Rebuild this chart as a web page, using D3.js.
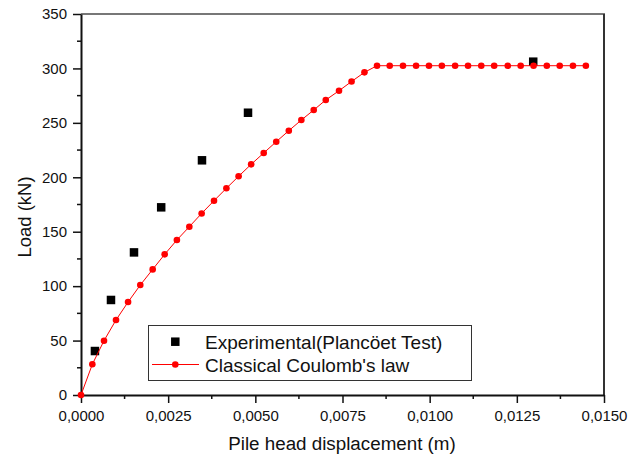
<!DOCTYPE html>
<html>
<head>
<meta charset="utf-8">
<script src="https://cdn.jsdelivr.net/npm/d3@7"></script>
<style>
  body { margin: 0; background: #fff; }
  svg { display: block; font-family: "Liberation Sans", Arial, sans-serif; }
</style>
</head>
<body>
<svg id="chart" width="641" height="456"></svg>
<script>
// experimental points (Plancoet test)
const expX = [0.0004, 0.00086, 0.00152, 0.0023, 0.00347, 0.00479, 0.01297];
const expY = [40.4, 87.3, 131, 172.4, 215.6, 259.3, 306.2];

// classical Coulomb's law curve
const coulombX = [0, 0.000325, 0.00066, 0.001004, 0.00135, 0.0017, 0.002056, 0.0024, 0.00275,
  0.003107, 0.00346, 0.003815, 0.00417, 0.00452, 0.00488, 0.00524, 0.0056, 0.00596, 0.00632,
  0.006675, 0.00702, 0.0074, 0.00776, 0.00813, 0.00849, 0.008854, 0.009235, 0.00961, 0.00998,
  0.01035, 0.01073, 0.0111, 0.01148, 0.01185, 0.01224, 0.01261, 0.01298, 0.01336, 0.01373,
  0.01411, 0.01448];
const coulombY = [0, 28.2, 49.9, 68.9, 85.4, 101, 115.4, 129.2, 142.4,
  154.6, 166.8, 178.5, 189.9, 200.9, 211.9, 222.3, 232.7, 242.8, 252.6,
  261.8, 271, 279.5, 288, 296.4, 302.5, 302.5, 302.5, 302.5, 302.5,
  302.5, 302.5, 302.5, 302.5, 302.5, 302.5, 302.5, 302.5, 302.5, 302.5,
  302.5, 302.5];

const xTicks = [0, 0.0025, 0.005, 0.0075, 0.01, 0.0125, 0.015];
const yTicks = [0, 50, 100, 150, 200, 250, 300, 350];
const legendLabels = ["Experimental(Plancöet Test)", "Classical Coulomb's law"];

const svg = d3.select("#chart");
const mL = 81, mR = 604, mT = 14, mB = 395;

const x = d3.scaleLinear().domain([0, 0.015]).range([mL, mR]);
const y = d3.scaleLinear().domain([0, 350]).range([mB, mT]);

const loc = d3.formatLocale({decimal: ",", thousands: ".", grouping: [3], currency: ["", ""]});
const fmtX = loc.format(".4f");

// frame: top and right lines
svg.append("line").attr("x1", mL).attr("x2", mR + 1).attr("y1", mT).attr("y2", mT)
  .attr("stroke", "#777").attr("stroke-width", 2);
svg.append("line").attr("x1", mR).attr("x2", mR).attr("y1", mT).attr("y2", mB)
  .attr("stroke", "#333").attr("stroke-width", 2);

// minor ticks
const xMinor = d3.range(0.00125, 0.015, 0.0025);
const yMinor = d3.range(25, 350, 50);

const gx = svg.append("g").attr("transform", `translate(0,${mB})`)
  .call(d3.axisBottom(x).tickValues(xTicks).tickFormat(fmtX).tickSize(8).tickPadding(7).tickSizeOuter(0));
svg.append("g").attr("transform", `translate(0,${mB})`)
  .selectAll("line").data(xMinor).join("line")
  .attr("x1", d => x(d)).attr("x2", d => x(d)).attr("y1", 0).attr("y2", 4)
  .attr("stroke", "#111").attr("stroke-width", 1.5);

const gy = svg.append("g").attr("transform", `translate(${mL},0)`)
  .call(d3.axisLeft(y).tickValues(yTicks).tickSize(8).tickPadding(6).tickSizeOuter(0));
svg.append("g").attr("transform", `translate(${mL},0)`)
  .selectAll("line").data(yMinor).join("line")
  .attr("y1", d => y(d)).attr("y2", d => y(d)).attr("x1", 0).attr("x2", -4)
  .attr("stroke", "#111").attr("stroke-width", 1.5);

[gx, gy].forEach(g => {
  g.select(".domain").attr("stroke", "#111").attr("stroke-width", 2);
  g.selectAll(".tick line").attr("stroke", "#111").attr("stroke-width", 1.5);
  g.selectAll(".tick text").attr("fill", "#111").attr("font-size", "15px")
    .attr("font-family", "'Liberation Sans', Arial, sans-serif");
});

// axis titles
svg.append("text").attr("x", (mL + mR) / 2 - 0.5).attr("y", 450)
  .attr("text-anchor", "middle").attr("font-size", "18.8px").attr("fill", "#111")
  .text("Pile head displacement (m)");
svg.append("text").attr("transform", "translate(31,217) rotate(-90)")
  .attr("text-anchor", "middle").attr("font-size", "18.5px").attr("fill", "#111")
  .text("Load (kN)");

// experimental squares
const sq = 8.5;
svg.append("g").selectAll("rect").data(expX.map((d, i) => [d, expY[i]])).join("rect")
  .attr("x", d => x(d[0]) - sq / 2).attr("y", d => y(d[1]) - sq / 2)
  .attr("width", sq).attr("height", sq).attr("fill", "#000");

// coulomb curve
const cData = coulombX.map((d, i) => [d, coulombY[i]]);
svg.append("path").datum(cData)
  .attr("d", d3.line().x(d => x(d[0])).y(d => y(d[1])))
  .attr("fill", "none").attr("stroke", "#f00").attr("stroke-width", 1);
svg.append("g").selectAll("circle").data(cData).join("circle")
  .attr("cx", d => x(d[0])).attr("cy", d => y(d[1])).attr("r", 3.3).attr("fill", "#f00");

// legend
const lg = svg.append("g");
lg.append("rect").attr("x", 148.5).attr("y", 325.5).attr("width", 323).attr("height", 55)
  .attr("fill", "#fff").attr("stroke", "#333").attr("stroke-width", 1);
lg.append("rect").attr("x", 175.3 - sq / 2).attr("y", 341.7 - sq / 2)
  .attr("width", sq).attr("height", sq).attr("fill", "#000");
lg.append("line").attr("x1", 152).attr("x2", 199).attr("y1", 364.5).attr("y2", 364.5)
  .attr("stroke", "#f00").attr("stroke-width", 1);
lg.append("circle").attr("cx", 175.3).attr("cy", 364.5).attr("r", 3.3).attr("fill", "#f00");
lg.selectAll("text").data(legendLabels).join("text")
  .attr("x", 205).attr("y", (d, i) => 348.5 + i * 23)
  .attr("font-size", "19px").attr("fill", "#111").text(d => d);
</script>
</body>
</html>
